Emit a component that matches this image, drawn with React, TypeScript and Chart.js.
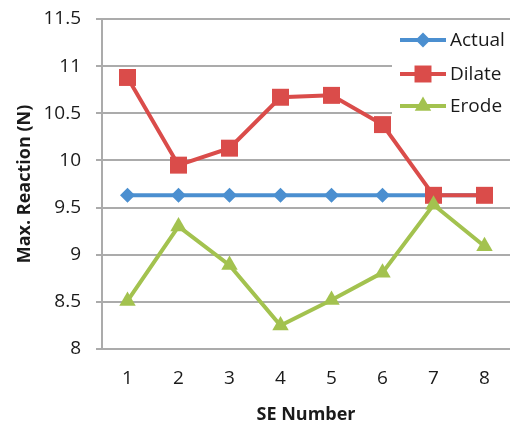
import React, { useEffect, useRef } from "react";
import { Chart, registerables } from "chart.js";

Chart.register(...registerables);

const categories = ["1", "2", "3", "4", "5", "6", "7", "8"];
const actualValues = [9.63, 9.63, 9.63, 9.63, 9.63, 9.63, 9.63, 9.63];
const dilateValues = [10.88, 9.95, 10.13, 10.67, 10.69, 10.38, 9.63, 9.63];
const erodeValues = [8.51, 9.3, 8.89, 8.25, 8.52, 8.81, 9.53, 9.09];
const seriesNames = ["Actual", "Dilate", "Erode"];
const seriesColors = ["#4b8fd0", "#da4c4a", "#a3c24f"];
const seriesMarkers = ["rectRot", "rect", "triangle"];
const markerRadii = [7.5, 12, 9.5];

const FONT = "'Open Sans', 'DejaVu Sans', sans-serif";
const GRID = "#ababab";

function drawMarker(ctx: CanvasRenderingContext2D, style: string, x: number, y: number, r: number, color: string) {
  ctx.save();
  ctx.fillStyle = color;
  ctx.beginPath();
  if (style === "rectRot") {
    ctx.moveTo(x, y - r);
    ctx.lineTo(x + r, y);
    ctx.lineTo(x, y + r);
    ctx.lineTo(x - r, y);
  } else if (style === "rect") {
    const s = r * Math.SQRT1_2;
    ctx.rect(x - s, y - s, 2 * s, 2 * s);
  } else {
    const h = r * Math.sin(Math.PI / 3);
    ctx.moveTo(x, y - r);
    ctx.lineTo(x + h, y + r / 2);
    ctx.lineTo(x - h, y + r / 2);
  }
  ctx.closePath();
  ctx.fill();
  ctx.restore();
}

const legendPlugin = {
  id: "customLegend",
  afterDraw(chart: any) {
    const ctx: CanvasRenderingContext2D = chart.ctx;
    ctx.save();
    ctx.fillStyle = "#ffffff";
    ctx.fillRect(392, 24, 130, 96);
    const rows = [40, 74, 106];
    seriesNames.forEach((name, i) => {
      const y = rows[i];
      ctx.strokeStyle = seriesColors[i];
      ctx.lineWidth = 4;
      ctx.beginPath();
      ctx.moveTo(400, y);
      ctx.lineTo(446, y);
      ctx.stroke();
      drawMarker(ctx, seriesMarkers[i], 423, y, markerRadii[i], seriesColors[i]);
      ctx.fillStyle = "#1a1a1a";
      ctx.font = `19px ${FONT}`;
      ctx.textBaseline = "middle";
      ctx.textAlign = "left";
      ctx.fillText(name, 450, y + 1);
    });
    ctx.restore();
  },
};

export default function App() {
  const ref = useRef<HTMLCanvasElement>(null);
  useEffect(() => {
    document.body.style.margin = "0";
    const values = [actualValues, dilateValues, erodeValues];
    const chart = new Chart(ref.current!, {
      type: "line",
      data: {
        labels: categories,
        datasets: seriesNames.map((name, i) => ({
          label: name,
          data: values[i],
          order: 2 - i,
          borderColor: seriesColors[i],
          backgroundColor: seriesColors[i],
          borderWidth: 4,
          pointStyle: seriesMarkers[i] as any,
          pointRadius: markerRadii[i],
          pointBorderWidth: 0,
          pointBackgroundColor: seriesColors[i],
          tension: 0,
          fill: false,
        })),
      },
      options: {
        responsive: false,
        animation: false,
        devicePixelRatio: 1,
        layout: { padding: { left: 0, right: 16, top: 19, bottom: 0 } },
        plugins: { legend: { display: false }, tooltip: { enabled: false } },
        scales: {
          x: {
            offset: true,
            grid: { display: false },
            border: { display: false },
            ticks: { font: { family: FONT, size: 19 }, color: "#1a1a1a", padding: 10 },
            title: {
              display: true,
              text: "SE Number",
              font: { family: FONT, size: 18, weight: "bold" },
              color: "#1a1a1a",
              padding: { top: 0, bottom: 0 },
            },
            afterFit(scale: any) {
              scale.height = 77;
              scale.paddingLeft = 0;
              scale.paddingRight = 0;
            },
          },
          y: {
            min: 8,
            max: 11.5,
            ticks: {
              stepSize: 0.5,
              font: { family: FONT, size: 19 },
              color: "#1a1a1a",
              padding: 15,
              callback: (v: any) => String(Number(v)),
            },
            grid: { color: GRID, lineWidth: 2, tickLength: 6, tickColor: GRID },
            border: { display: true, color: GRID, width: 2 },
            title: {
              display: true,
              text: "Max. Reaction (N)",
              font: { family: FONT, size: 18, weight: "bold" },
              color: "#1a1a1a",
              padding: { top: 14, bottom: 0 },
            },
            afterFit(scale: any) {
              scale.width = 102;
              scale.paddingTop = 0;
              scale.paddingBottom = 0;
            },
          },
        },
      },
      plugins: [legendPlugin],
    });
    return () => chart.destroy();
  }, []);
  return (
    <div style={{ width: 526, height: 426, background: "#fff" }}>
      <canvas ref={ref} width={526} height={426} style={{ display: "block" }} />
    </div>
  );
}
